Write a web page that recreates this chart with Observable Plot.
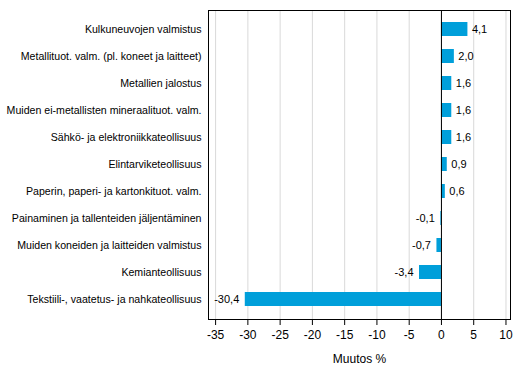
<!DOCTYPE html>
<html>
<head>
<meta charset="utf-8">
<script src="https://cdn.jsdelivr.net/npm/d3@7"></script>
<script src="https://cdn.jsdelivr.net/npm/@observablehq/plot@0.6"></script>
<style>
  html, body { margin: 0; padding: 0; background: #fff; }
  #chart svg { display: block; }
</style>
</head>
<body>
<div id="chart"></div>
<script>
const categories = [
  "Kulkuneuvojen valmistus",
  "Metallituot. valm. (pl. koneet ja laitteet)",
  "Metallien jalostus",
  "Muiden ei-metallisten mineraalituot. valm.",
  "Sähkö- ja elektroniikkateollisuus",
  "Elintarviketeollisuus",
  "Paperin, paperi- ja kartonkituot. valm.",
  "Painaminen ja tallenteiden jäljentäminen",
  "Muiden koneiden ja laitteiden valmistus",
  "Kemianteollisuus",
  "Tekstiili-, vaatetus- ja nahkateollisuus"
];
const values = [4.1, 2.0, 1.6, 1.6, 1.6, 0.9, 0.6, -0.1, -0.7, -3.4, -30.4];
const xTicks = [-35, -30, -25, -20, -15, -10, -5, 0, 5, 10];
const axisTitle = "Muutos %";

const data = categories.map((c, i) => ({category: c, value: values[i]}));
const fmt = v => v.toFixed(1).replace(".", ",");

const chart = Plot.plot({
  width: 529,
  height: 378,
  marginLeft: 208,
  marginRight: 19,
  marginTop: 10,
  marginBottom: 59,
  style: {fontFamily: "'Liberation Sans', Arial, sans-serif", fontSize: "12px", color: "#000", background: "#fff"},
  x: {domain: [-36.1, 10.7], ticks: xTicks},
  y: {domain: categories, paddingInner: 0.48, paddingOuter: 0.45},
  marks: [
    Plot.gridX(xTicks, {stroke: "#d9d9d9", strokeOpacity: 1}),
    Plot.barX(data, {x: "value", y: "category", fill: "#009fda"}),
    Plot.ruleX([0], {stroke: "#000", strokeWidth: 1}),
    Plot.frame({stroke: "#000", strokeWidth: 1}),
    Plot.text(data.filter(d => d.value >= 0), {x: "value", y: "category", text: d => fmt(d.value), textAnchor: "start", dx: 4, fill: "#000", fontSize: 11}),
    Plot.text(data.filter(d => d.value < 0), {x: "value", y: "category", text: d => fmt(d.value), textAnchor: "end", dx: -6, fill: "#000", fontSize: 11}),
    Plot.axisX(xTicks, {tickSize: 6, tickPadding: 5, tickFormat: d => String(d), label: null, stroke: "#000"}),
    Plot.text([axisTitle], {frameAnchor: "bottom", dy: 40, lineAnchor: "middle", fill: "#000"}),
    Plot.axisY({tickSize: 0, tickPadding: 7, label: null, fontSize: "10.6px"})
  ]
});
document.getElementById("chart").appendChild(chart);
</script>
</body>
</html>
